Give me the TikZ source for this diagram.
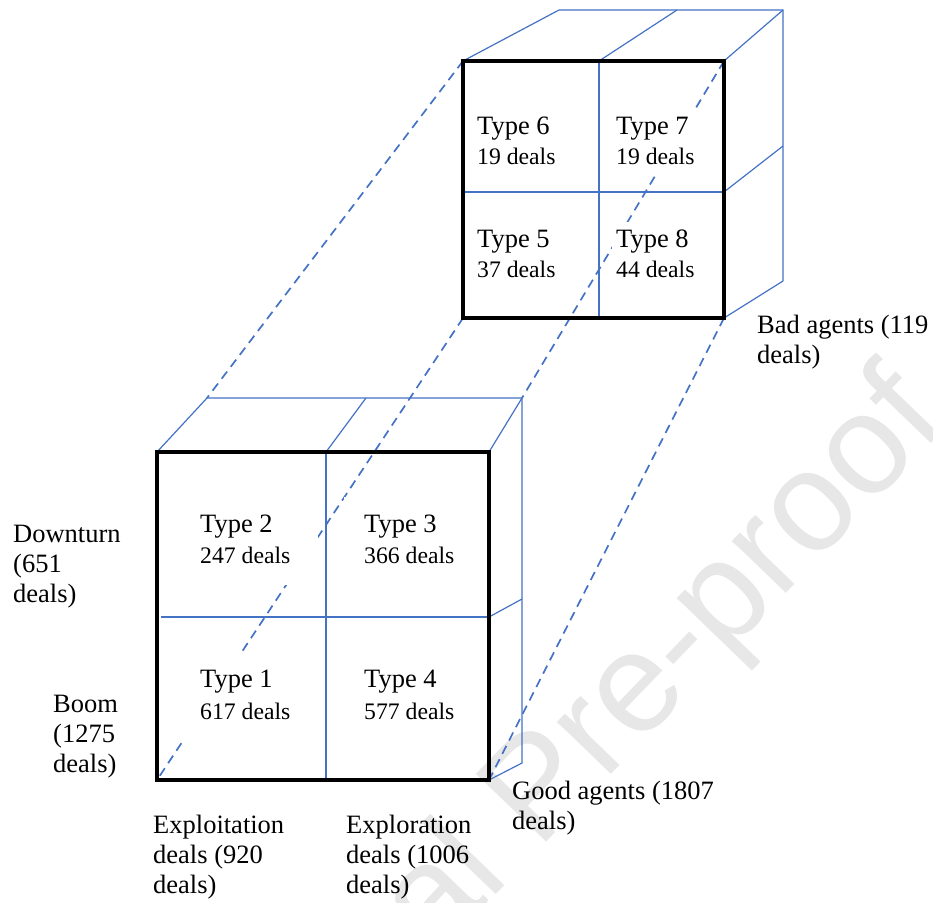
\documentclass[tikz,border=0pt]{standalone}
\usepackage{fontspec}
\setmainfont{Liberation Serif}
\newfontfamily\wmfont{Liberation Sans}
\definecolor{cubeblue}{RGB}{68,114,196}
\definecolor{wmgray}{RGB}{231,231,231}
\begin{document}
\begin{tikzpicture}[x=1pt,y=-1pt,
  edge/.style={cubeblue, line width=1.2pt},
  proj/.style={cubeblue, line width=1.7pt, dash pattern=on 9pt off 6pt},
  frame/.style={black, line width=3.2pt},
  cellbig/.style={fill=white, inner sep=0pt, minimum width=138pt, minimum height=88pt, anchor=north west},
  cellsmall/.style={fill=white, inner sep=0pt, minimum width=100pt, minimum height=68pt, anchor=north west},
  typetxt/.style={inner sep=0pt, anchor=west, font=\fontsize{26.5}{30}\selectfont},
  dealtxt/.style={inner sep=0pt, anchor=west, font=\fontsize{23.7}{28}\selectfont},
  lbl/.style={inner sep=0pt, anchor=north west, align=left, font=\fontsize{26.5}{30}\selectfont},
]
\useasboundingbox (0,0) rectangle (933,902);

% watermark
\node[wmgray, rotate=46, anchor=base east, inner sep=0pt,
      font=\wmfont\fontsize{142}{142}\selectfont] (wm) at (950,424) {Journal Pre-proof};

% top cube corners
\coordinate (tTL) at (463,61);
\coordinate (tTR) at (724,61);
\coordinate (tBR) at (724,318);
\coordinate (tBL) at (463,318);
\coordinate (tTM) at (599,61);
\coordinate (tBM) at (599,318);
\coordinate (tLM) at (463,192);
\coordinate (tRM) at (724,192);
\coordinate (tkTL) at (559,10);
\coordinate (tkTM) at (677,10);
\coordinate (tkTR) at (783,10);
\coordinate (tkRM) at (783,146);
\coordinate (tkBR) at (783,281);

% bottom cube corners
\coordinate (bTL) at (157,452);
\coordinate (bTR) at (489,452);
\coordinate (bBR) at (489,780);
\coordinate (bBL) at (157,780);
\coordinate (bTM) at (326,452);
\coordinate (bBM) at (326,780);
\coordinate (bLM) at (161,617);
\coordinate (bRM) at (489,617);
\coordinate (bkTL) at (207,398);
\coordinate (bkTM) at (366,398);
\coordinate (bkTR) at (522,398);
\coordinate (bkRM) at (522,599);
\coordinate (bkBR) at (522,763);

% top cube blue edges
\draw[edge] (tTL) -- (tkTL) -- (tkTR) -- (tkBR) -- (tBR);
\draw[edge] (tTM) -- (tkTM);
\draw[edge] (tTR) -- (tkTR);
\draw[edge] (tRM) -- (tkRM);
\draw[edge] (tTM) -- (tBM);
\draw[edge] (tLM) -- (tRM);

% bottom cube blue edges
\draw[edge] (bTL) -- (bkTL) -- (bkTR) -- (bkBR) -- (bBR);
\draw[edge] (bTM) -- (bkTM);
\draw[edge] (bTR) -- (bkTR);
\draw[edge] (bRM) -- (bkRM);
\draw[edge] (bTM) -- (bBM);
\draw[edge] (bLM) -- (bRM);

% projection lines
\draw[proj] (tTL) -- (bkTL);
\draw[proj] (tBL) -- (bBL);
\draw[proj] (tTR) -- (bkTR);
\draw[proj] (tBR) -- (bBR);

% cell backgrounds (top cube)
\node[cellsmall] (c6) at (473,107.5) {};
\node[cellsmall] (c7) at (612,107.5) {};
\node[cellsmall] (c5) at (473,221.5) {};
\node[cellsmall] (c8) at (612,221.5) {};
% cell backgrounds (bottom cube)
\node[cellbig] (c2) at (180,497) {};
\node[cellbig] (c3) at (344,497) {};
\node[cellbig] (c1) at (180,652.5) {};
\node[cellbig] (c4) at (344,652.5) {};

% cell texts
\node[typetxt] (t6) at (477,129) {Type 6};
\node[dealtxt] (d6) at (477,156) {19 deals};
\node[typetxt] (t7) at (616,129) {Type 7};
\node[dealtxt] (d7) at (616,156) {19 deals};
\node[typetxt] (t5) at (477,242) {Type 5};
\node[dealtxt] (d5) at (477,269) {37 deals};
\node[typetxt] (t8) at (616,242) {Type 8};
\node[dealtxt] (d8) at (616,269) {44 deals};

\node[typetxt] (t2) at (200,527) {Type 2};
\node[dealtxt] (d2) at (200,555) {247 deals};
\node[typetxt] (t3) at (364,527) {Type 3};
\node[dealtxt] (d3) at (364,555) {366 deals};
\node[typetxt] (t1) at (200,682) {Type 1};
\node[dealtxt] (d1) at (200,711) {617 deals};
\node[typetxt] (t4) at (364,682) {Type 4};
\node[dealtxt] (d4) at (364,711) {577 deals};

% front frames
\draw[frame] (tTL) rectangle (tBR);
\draw[frame] (bTL) rectangle (bBR);

% outer labels
\node[lbl] (down) at (13,525) {Downturn\\(651\\deals)};
\node[lbl] (boom) at (53,695) {Boom\\(1275\\deals)};
\node[lbl] (expt) at (153,815) {Exploitation\\deals (920\\deals)};
\node[lbl] (expr) at (346,815) {Exploration\\deals (1006\\deals)};
\node[lbl] (good) at (512,781) {Good agents (1807\\deals)};
\node[lbl] (bad) at (757,315) {Bad agents (119\\deals)};
\end{tikzpicture}
\end{document}
